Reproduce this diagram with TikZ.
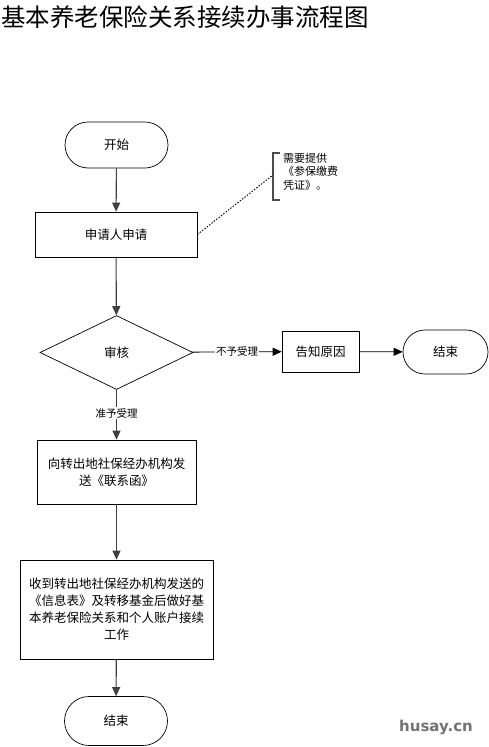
\documentclass[tikz,border=0pt]{standalone}
\usepackage{fontspec}
\setmainfont{Liberation Serif}
\newfontfamily\cjk{Noto Sans CJK SC}
\usetikzlibrary{shapes.geometric,shapes.misc,arrows.meta}
\tikzset{
  box/.style={draw, line width=0.7pt, inner sep=0pt, align=center,
    font=\cjk\fontsize{12.5}{17}\selectfont},
  term/.style={box, rounded rectangle},
  check/.style={box, diamond},
  link/.style={draw=black!75, line width=1.1pt,
    -{Triangle[length=9pt,width=8pt]}},
  tag/.style={fill=white, inner sep=1pt, font=\cjk\fontsize{10.5}{12}\selectfont}
}
\begin{document}
\begin{tikzpicture}[x=1pt, y=-1pt]
  \useasboundingbox[fill=white] (0,0) rectangle (489,747);
  % title
  \node[anchor=west, inner sep=0pt, font=\cjk\fontsize{24.5}{26}\selectfont] (title) at (1,17) {基本养老保险关系接续办事流程图};
  % main chain
  \node[term, minimum width=103pt, minimum height=46pt] (start) at (116.5,145) {开始};
  \node[box, minimum width=162pt, minimum height=45pt] (apply) at (116,234.5) {申请人申请};
  \node[check, minimum width=153pt, minimum height=74pt] (audit) at (116.5,352.5) {审核};
  \node[box, minimum width=77pt, minimum height=41pt] (tell) at (320.5,351.5) {告知原因};
  \node[term, minimum width=85pt, minimum height=44pt] (stop1) at (445.5,352) {结束};
  \node[box, minimum width=159pt, minimum height=64pt] (send) at (116.5,472) {向转出地社保经办机构发\\送《联系函》};
  \node[box, minimum width=193pt, minimum height=99pt] (done) at (116.5,609.5) {收到转出地社保经办机构发送的\\《信息表》及转移基金后做好基\\本养老保险关系和个人账户接续\\工作};
  \node[term, minimum width=103pt, minimum height=49pt] (stop2) at (116,721) {结束};
  % connectors
  \draw[link] (start) -- (apply);
  \draw[link] (apply) -- (audit);
  \draw[link, draw=black, line width=0.8pt] (audit) -- node[tag] (no) {不予受理} (tell);
  \draw[link, draw=black, line width=0.8pt] (tell) -- (stop1);
  \draw[link] (audit) -- node[tag, pos=0.47] (yes) {准予受理} (send);
  \draw[link] (send) -- (done);
  \draw[link] (done) -- (stop2);
  % note
  \coordinate (brace) at (273,175);
  \draw[black!70, line width=1.2pt] (280,153) -- (273,153) -- (273,200) -- (280,200);
  \node[anchor=north west, inner sep=0pt, align=left, font=\cjk\fontsize{11}{13.5}\selectfont] (note) at (283,153) {需要提供\\《参保缴费\\凭证》。};
  \draw[dash pattern=on 1.5pt off 1.5pt, line width=0.9pt] (apply.east) -- (brace);
  % watermark
  \node[font=\fontspec{DejaVu Sans}\bfseries\fontsize{15}{16}\selectfont, text=black!55] (mark) at (436,727) {husay.cn};
\end{tikzpicture}
\end{document}
